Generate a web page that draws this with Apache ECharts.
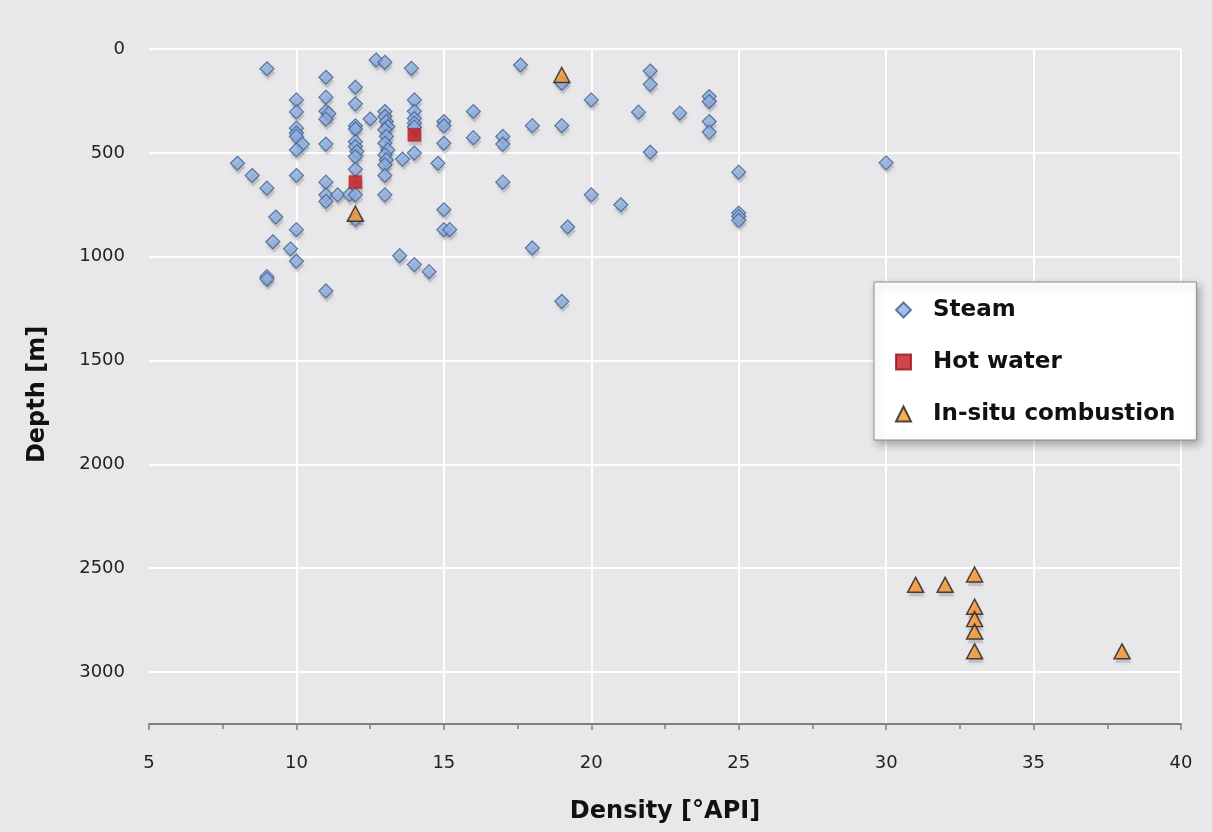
<!DOCTYPE html>
<html>
<head>
<meta charset="utf-8">
<title>Depth vs density</title>
<script src="https://cdn.jsdelivr.net/npm/echarts@6/dist/echarts.min.js"></script>
<style>
  html, body { margin: 0; padding: 0; background: #e8e8ea; }
  #chart { width: 1212px; height: 832px; }
</style>
</head>
<body>
<div id="chart"></div>
<script>
// Reservoir depth [m] against oil density [°API], grouped by recovery method
const steam = [
  [9, 95], [11, 136], [12, 184], [12.7, 53], [13, 64], [13.9, 93], [17.6, 77], [19, 165], [22, 106], [22, 170],
  [10, 245], [11, 232], [12, 264], [10, 303], [11, 300], [11.1, 310], [11, 338], [12.5, 337],
  [10, 381], [10, 405], [10, 421], [10.2, 458], [10, 486], [11, 458],
  [12, 370], [12, 385], [12, 446], [12, 470], [12.05, 494], [12, 518], [12, 579],
  [13, 301], [13, 325], [13.05, 349], [13.1, 373], [13, 389], [13.05, 421], [13, 454], [13.1, 486],
  [13, 510], [13.05, 534], [13, 558], [13, 609], [13, 702],
  [13.6, 530], [14, 245], [14, 300], [14, 335], [14, 357], [14, 376], [14, 501],
  [15, 349], [15, 370], [15, 454], [14.8, 550], [16, 301], [16, 427], [17, 421], [17, 458],
  [18, 369], [19, 369], [20, 245],
  [21.6, 304], [23, 309], [24, 229], [24, 253], [24, 349], [24, 400], [22, 497],
  [25, 593], [25, 790], [25, 806], [25, 825], [30, 548],
  [8, 550], [8.5, 609], [9, 670], [10, 609], [11, 641], [11, 702], [11, 734],
  [11.4, 702], [11.8, 700], [12, 702], [12, 820],
  [9.3, 809], [10, 870], [9.2, 928], [9.8, 962], [10, 1022], [9, 1096], [9, 1108], [11, 1165],
  [15, 774], [15, 870], [15.2, 870], [13.5, 995], [14, 1038], [14.5, 1072],
  [17, 641], [20, 702], [21, 750], [19.2, 857], [18, 958], [19, 1215]
];
const hotWater = [[12, 641], [14, 413]];
const combustion = [
  [19, 125], [12, 793],
  [31, 2580], [32, 2580], [33, 2530], [33, 2685], [33, 2745], [33, 2805], [33, 2900], [38, 2900]
];

const seriesNames = ['Steam', 'Hot water', 'In-situ combustion'];
const xTitle = 'Density [°API]';
const yTitle = 'Depth [m]';

const FONT = '"DejaVu Sans", Verdana, sans-serif';

// Soft drop shadow drawn as a faint, blurred copy of each marker just below it,
// so the shadow never tints the marker fill itself.
function shadowLayer(data, symbol, size) {
  return {
    type: 'scatter',
    silent: true,
    legendHoverLink: false,
    symbol: symbol,
    symbolSize: size,
    symbolOffset: [1, 4],
    data: data,
    itemStyle: {
      color: 'rgba(50,50,70,0.22)',
      shadowBlur: 6,
      shadowColor: 'rgba(50,50,70,0.55)',
      shadowOffsetX: 0,
      shadowOffsetY: 0
    },
    z: 1,
    tooltip: { show: false }
  };
}

const chart = echarts.init(document.getElementById('chart'), null, { renderer: 'canvas' });

chart.setOption({
  backgroundColor: '#e8e8ea',
  animation: false,
  grid: { left: 149, right: 31, top: 49, bottom: 108, containLabel: false },
  xAxis: {
    type: 'value',
    position: 'bottom',
    min: 5,
    max: 40,
    interval: 5,
    name: xTitle,
    nameLocation: 'middle',
    nameGap: 76,
    nameTextStyle: { fontFamily: FONT, fontWeight: 'bold', fontSize: 24, color: '#111' },
    axisLine: { show: true, onZero: false, lineStyle: { color: '#7f7f7f', width: 2 } },
    axisTick: { show: true, inside: false, length: 6, lineStyle: { color: '#7f7f7f', width: 1.5 } },
    minorTick: { show: true, splitNumber: 2, length: 5, lineStyle: { color: '#7f7f7f', width: 1.5 } },
    axisLabel: { fontFamily: FONT, fontSize: 18, color: '#222', margin: 30 },
    splitLine: { show: true, showMinLine: false, lineStyle: { color: '#ffffff', width: 2 } }
  },
  yAxis: {
    type: 'value',
    inverse: true,
    min: 0,
    max: 3250,
    interval: 500,
    name: yTitle,
    nameLocation: 'middle',
    nameGap: 99,
    nameRotate: 90,
    nameTextStyle: {
      fontFamily: FONT, fontWeight: 'bold', fontSize: 24, color: '#111',
      padding: [0, 16, 0, 0]
    },
    axisLine: { show: false },
    axisTick: { show: false },
    axisLabel: {
      fontFamily: FONT, fontSize: 18, color: '#222', margin: 24,
      formatter: v => (v % 500 === 0 ? String(v) : '')
    },
    splitLine: { show: true, lineStyle: { color: '#ffffff', width: 2 } }
  },
  legend: {
    orient: 'vertical',
    left: 874,
    top: 282,
    data: seriesNames,
    backgroundColor: '#ffffff',
    borderColor: '#8c8c8c',
    borderWidth: 1,
    borderRadius: 0,
    shadowBlur: 8,
    shadowColor: 'rgba(0,0,0,0.3)',
    shadowOffsetX: 3,
    shadowOffsetY: 4,
    padding: [16, 21, 14, 21],
    itemWidth: 15,
    itemHeight: 15,
    itemGap: 28,
    textStyle: {
      fontFamily: FONT, fontWeight: 'bold', fontSize: 23, color: '#111',
      lineHeight: 24, padding: [0, 0, 0, 17]
    }
  },
  series: [
    shadowLayer(steam, 'diamond', 14),
    shadowLayer(hotWater, 'rect', 13),
    shadowLayer(combustion, 'triangle', [16, 15]),
    {
      name: seriesNames[0],
      type: 'scatter',
      symbol: 'diamond',
      symbolSize: 14,
      data: steam,
      itemStyle: { color: '#8eaede', borderColor: '#3f5f8d', borderWidth: 1.2 },
      z: 2
    },
    {
      name: seriesNames[1],
      type: 'scatter',
      symbol: 'rect',
      symbolSize: 13,
      data: hotWater,
      itemStyle: { color: '#c4161c', borderColor: '#9a1015', borderWidth: 0.5 },
      z: 3
    },
    {
      name: seriesNames[2],
      type: 'scatter',
      symbol: 'triangle',
      symbolSize: [16, 15],
      data: combustion,
      itemStyle: { color: '#f7982f', borderColor: '#1e1e1e', borderWidth: 1.5 },
      z: 4
    }
  ]
});
</script>
</body>
</html>
